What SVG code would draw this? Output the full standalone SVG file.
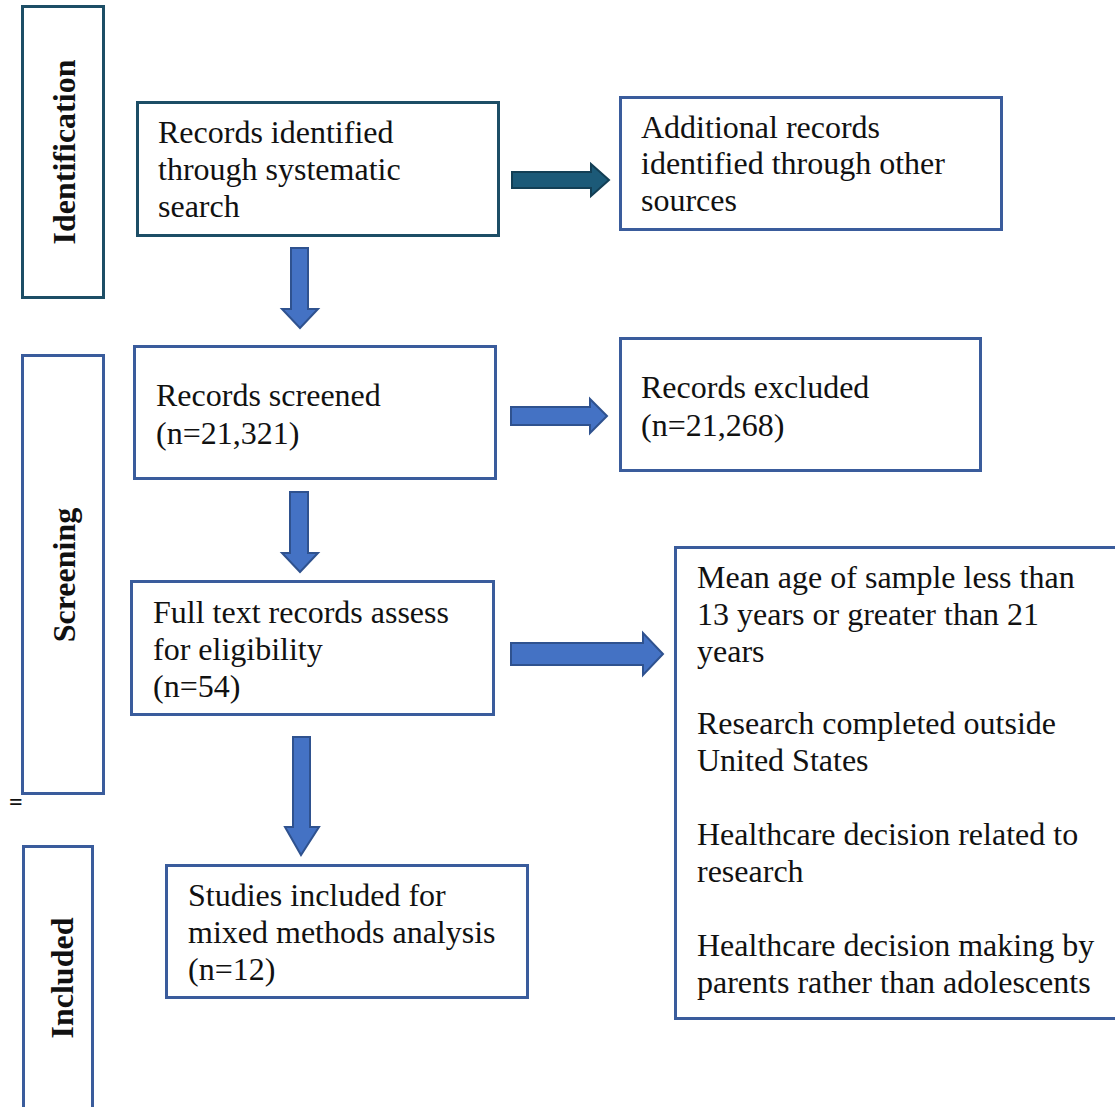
<svg xmlns="http://www.w3.org/2000/svg" width="1115" height="1107" viewBox="0 0 1115 1107">
  <style>
    .box-teal { fill: #ffffff; stroke: #1d4e66; stroke-width: 3; }
    .box-blue { fill: #ffffff; stroke: #3a5c9c; stroke-width: 3; }
    .txt { font-family: "Liberation Serif", "Times New Roman", serif; font-size: 32px; fill: #111111; }
    .side { font-family: "Liberation Serif", "Times New Roman", serif; font-size: 32px; font-weight: bold; fill: #111111; text-anchor: middle; }
    .arrow-blue { fill: #4472c4; stroke: #2f528f; stroke-width: 2; stroke-linejoin: miter; }
    .arrow-teal { fill: #1c5a78; stroke: #133f55; stroke-width: 2; stroke-linejoin: miter; }
  </style>
  <defs>
    <clipPath id="clip-exclusions">
      <rect x="677" y="549" width="440" height="468"/>
    </clipPath>
  </defs>
  <rect width="1115" height="1107" fill="#ffffff"/>

  <!-- phase labels -->
  <g id="phase-identification">
    <rect class="box-teal" x="22.5" y="6.5" width="81" height="291"/>
    <text class="side" transform="translate(75,152) rotate(-90)">Identification</text>
  </g>
  <g id="phase-screening">
    <rect class="box-blue" x="22.5" y="355.5" width="81" height="438"/>
    <text class="side" transform="translate(75,575) rotate(-90)">Screening</text>
  </g>
  <text x="9" y="810" style="font-family: 'Liberation Serif', serif; font-size: 24px; font-weight: bold; fill: #111;">=</text>
  <g id="phase-included">
    <rect class="box-blue" x="23.5" y="846.5" width="69" height="270"/>
    <text class="side" transform="translate(73,978) rotate(-90)">Included</text>
  </g>

  <!-- connectors -->
  <g id="connectors">
    <polygon class="arrow-teal" points="512,172 591,172 591,164 609,180 591,196 591,188 512,188"/>
    <polygon class="arrow-blue" points="291,248 308,248 308,309 318,309 300,328 282,309 291,309"/>
    <polygon class="arrow-blue" points="511,407 590,407 590,399 607,416 590,433 590,425 511,425"/>
    <polygon class="arrow-blue" points="290,492 308,492 308,553 318,553 300,572 282,553 290,553"/>
    <polygon class="arrow-blue" points="511,643 643,643 643,633 663,654 643,675 643,665 511,665"/>
    <polygon class="arrow-blue" points="293,737 310,737 310,827 319,827 301,855 285,827 293,827"/>
  </g>

  <!-- records identified -->
  <g id="node-identified">
    <rect class="box-teal" x="137.5" y="102.5" width="361" height="133"/>
    <text class="txt" x="158" y="143">Records identified</text>
    <text class="txt" x="158" y="180">through systematic</text>
    <text class="txt" x="158" y="217">search</text>
  </g>

  <g id="node-other-sources">
    <rect class="box-blue" x="620.5" y="97.5" width="381" height="132"/>
    <text class="txt" x="641" y="138">Additional records</text>
    <text class="txt" x="641" y="174">identified through other</text>
    <text class="txt" x="641" y="211">sources</text>
  </g>

  <g id="node-screened">
    <rect class="box-blue" x="134.5" y="346.5" width="361" height="132"/>
    <text class="txt" x="156" y="406">Records screened</text>
    <text class="txt" x="156" y="444">(n=21,321)</text>
  </g>

  <g id="node-excluded">
    <rect class="box-blue" x="620.5" y="338.5" width="360" height="132"/>
    <text class="txt" x="641" y="398">Records excluded</text>
    <text class="txt" x="641" y="436">(n=21,268)</text>
  </g>

  <g id="node-eligibility">
    <rect class="box-blue" x="131.5" y="581.5" width="362" height="133"/>
    <text class="txt" x="153" y="623">Full text records assess</text>
    <text class="txt" x="153" y="660">for eligibility</text>
    <text class="txt" x="153" y="697">(n=54)</text>
  </g>

  <g id="node-exclusion-reasons">
    <rect class="box-blue" x="675.5" y="547.5" width="445" height="471"/>
    <g clip-path="url(#clip-exclusions)">
      <text class="txt" x="697" y="588">Mean age of sample less than</text>
      <text class="txt" x="697" y="625">13 years or greater than 21</text>
      <text class="txt" x="697" y="662">years</text>
      <text class="txt" x="697" y="734">Research completed outside</text>
      <text class="txt" x="697" y="771">United States</text>
      <text class="txt" x="697" y="845">Healthcare decision related to</text>
      <text class="txt" x="697" y="882">research</text>
      <text class="txt" x="697" y="956">Healthcare decision making by</text>
      <text class="txt" x="697" y="993">parents rather than adolescents</text>
    </g>
  </g>

  <g id="node-included">
    <rect class="box-blue" x="166.5" y="865.5" width="361" height="132"/>
    <text class="txt" x="188" y="906">Studies included for</text>
    <text class="txt" x="188" y="943">mixed methods analysis</text>
    <text class="txt" x="188" y="980">(n=12)</text>
  </g>
</svg>
